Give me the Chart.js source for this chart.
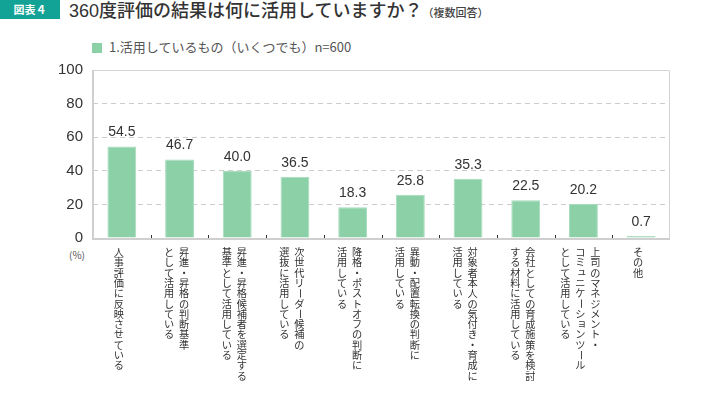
<!DOCTYPE html>
<html lang="ja">
<head>
<meta charset="utf-8">
<script src="https://cdn.jsdelivr.net/npm/chart.js@4/dist/chart.umd.min.js"></script>
<style>
  body { margin: 0; background: #fff; font-family: "Noto Sans CJK JP", sans-serif; }
  #wrap { position: relative; width: 727px; height: 396px; }
  #badge { position: absolute; left: 0; top: 0; width: 60px; height: 19px; background: #13a296;
    color: #fff; font-size: 11px; font-weight: bold; line-height: 19px; text-align: center; }
  #title { position: absolute; left: 69px; top: -4px; font-size: 18px; font-weight: 500; color: #333; white-space: nowrap; }
  #title .num { font-family: "Liberation Sans", sans-serif; }
  #title small { font-size: 11px; color: #444; font-weight: 500; }
  #legend { position: absolute; left: 92px; top: 37px; font-size: 13px; color: #555; white-space: nowrap; }
  #legend span { display: inline-block; width: 10px; height: 10px; vertical-align: -1px; margin-right: 7px; }
  #unit { position: absolute; left: 69px; top: 247px; font-size: 10px; color: #555; }
  canvas { position: absolute; left: 0; top: 0; }
</style>
</head>
<body>
<div id="wrap">
  <div id="badge">図表４</div>
  <div id="title"><span class="num">360</span>度評価の結果は何に活用していますか？<small>（複数回答）</small></div>
  <div id="legend"></div>
  <div id="unit">(%)</div>
  <canvas id="chart" width="727" height="396"></canvas>
</div>
<script>
// categories, each line is one vertical column (first line = rightmost)
const categories = [
  ["人事評価に反映させている"],
  ["昇進・昇格の判断基準", "として活用している"],
  ["昇進・昇格候補者を選定する", "基準として活用している"],
  ["次世代リーダー候補の", "選抜に活用している"],
  ["降格・ポストオフの判断に", "活用している"],
  ["異動・配置転換の判断に", "活用している"],
  ["対象者本人の気付き・育成に", "活用している"],
  ["会社としての育成施策を検討", "する材料に活用している"],
  ["上司のマネジメント・", "コミュニケーションツール", "として活用している"],
  ["その他"],
];
const seriesLabel = "1.活用しているもの（いくつでも）n=600";
const values = [54.5, 46.7, 40.0, 36.5, 18.3, 25.8, 35.3, 22.5, 20.2, 0.7];
const yTicks = [0, 20, 40, 60, 80, 100];

const barColor = "#8bd0a7";
document.getElementById("legend").innerHTML =
  `<span style="background:${barColor}"></span>${seriesLabel}`;

const FONT = '"Noto Sans CJK JP", sans-serif';
const NUM_FONT = '"Liberation Sans", Arial, sans-serif';

// vertical Japanese category labels under the axis
const verticalLabels = {
  id: "verticalLabels",
  afterDraw(chart) {
    const ctx = chart.ctx;
    const x = chart.scales.x;
    const top = x.top + 9;
    const step = 10.3;
    const colGap = 15;
    ctx.save();
    ctx.font = `10.2px ${FONT}`;
    ctx.fillStyle = "#333";
    ctx.textAlign = "center";
    ctx.textBaseline = "middle";
    categories.forEach((lines, i) => {
      const cx = x.getPixelForTick(i) - 3;
      const n = lines.length;
      lines.forEach((line, li) => {
        const colX = cx + ((n - 1) / 2 - li) * colGap;
        [...line].forEach((ch, k) => {
          const y = top + step * k + step / 2;
          ctx.save();
          if (ch === "ー") {
            ctx.translate(colX, y);
            ctx.rotate(Math.PI / 2);
            ctx.fillText(ch, 0, 0);
          } else if ("ッュョャ".includes(ch)) {
            ctx.fillText(ch, colX + 1.5, y - 1.5);
          } else {
            ctx.fillText(ch, colX, y);
          }
          ctx.restore();
        });
      });
    });
    ctx.restore();
  },
};

// axes drawn under the bars
const axes = {
  id: "axes",
  beforeDatasetsDraw(chart) {
    const ctx = chart.ctx;
    const area = chart.chartArea;
    ctx.save();
    ctx.strokeStyle = "#d4d4d4";
    ctx.lineWidth = 1;
    ctx.beginPath();
    ctx.moveTo(area.left, area.top + 0.5);
    ctx.lineTo(area.right - 0.5, area.top + 0.5);
    ctx.lineTo(area.right - 0.5, area.bottom);
    ctx.stroke();
    ctx.strokeStyle = "#cfcfcf";
    ctx.lineWidth = 2;
    ctx.beginPath();
    ctx.moveTo(area.left, area.top);
    ctx.lineTo(area.left, area.bottom + 1);
    ctx.lineTo(area.right, area.bottom + 1);
    ctx.stroke();
    ctx.restore();
  },
};

// value labels and small boundary ticks
const extras = {
  id: "extras",
  afterDatasetsDraw(chart) {
    const ctx = chart.ctx;
    const meta = chart.getDatasetMeta(0);
    const area = chart.chartArea;
    const x = chart.scales.x;
    ctx.save();
    ctx.font = `14px ${NUM_FONT}`;
    ctx.fillStyle = "#333";
    ctx.textAlign = "center";
    ctx.textBaseline = "bottom";
    meta.data.forEach((bar, i) => {
      ctx.fillText(values[i].toFixed(1), bar.x, bar.y - 7);
    });
    ctx.strokeStyle = "#333";
    ctx.lineWidth = 1;
    ctx.beginPath();
    const half = (x.getPixelForTick(1) - x.getPixelForTick(0)) / 2;
    for (let i = 1; i < categories.length; i++) {
      const px = Math.round(x.getPixelForTick(i) - half) + 0.5;
      ctx.moveTo(px, area.bottom - 3);
      ctx.lineTo(px, area.bottom);
    }
    ctx.stroke();
    ctx.restore();
  },
};

new Chart(document.getElementById("chart"), {
  type: "bar",
  data: {
    labels: categories.map((c) => c.join("")),
    datasets: [
      {
        label: seriesLabel,
        data: values,
        backgroundColor: barColor,
        borderColor: "#a6dcbd",
        borderWidth: { top: 1, left: 1, right: 1, bottom: 0 },
        barPercentage: 0.5,
        categoryPercentage: 1,
        minBarLength: 2,
      },
    ],
  },
  options: {
    responsive: false,
    animation: false,
    events: [],
    layout: { padding: { top: 70, right: 57, bottom: 0, left: 0 } },
    plugins: { legend: { display: false }, tooltip: { enabled: false } },
    scales: {
      x: {
        grid: { display: false },
        border: { display: false },
        ticks: { display: false },
        afterFit: (s) => { s.height = 158; },
      },
      y: {
        min: 0,
        max: 100,
        afterBuildTicks: (s) => { s.ticks = yTicks.map((v) => ({ value: v })); },
        afterFit: (s) => { s.width = 93; },
        border: { display: false, dash: [5, 4] },
        grid: {
          color: (c) => (c.tick.value === 0 || c.tick.value === 100 ? "transparent" : "#cccccc"),
          drawTicks: false,
        },
        ticks: {
          padding: 10,
          color: "#333",
          font: { size: 15, family: NUM_FONT },
        },
      },
    },
  },
  plugins: [axes, verticalLabels, extras],
});
</script>
</body>
</html>
